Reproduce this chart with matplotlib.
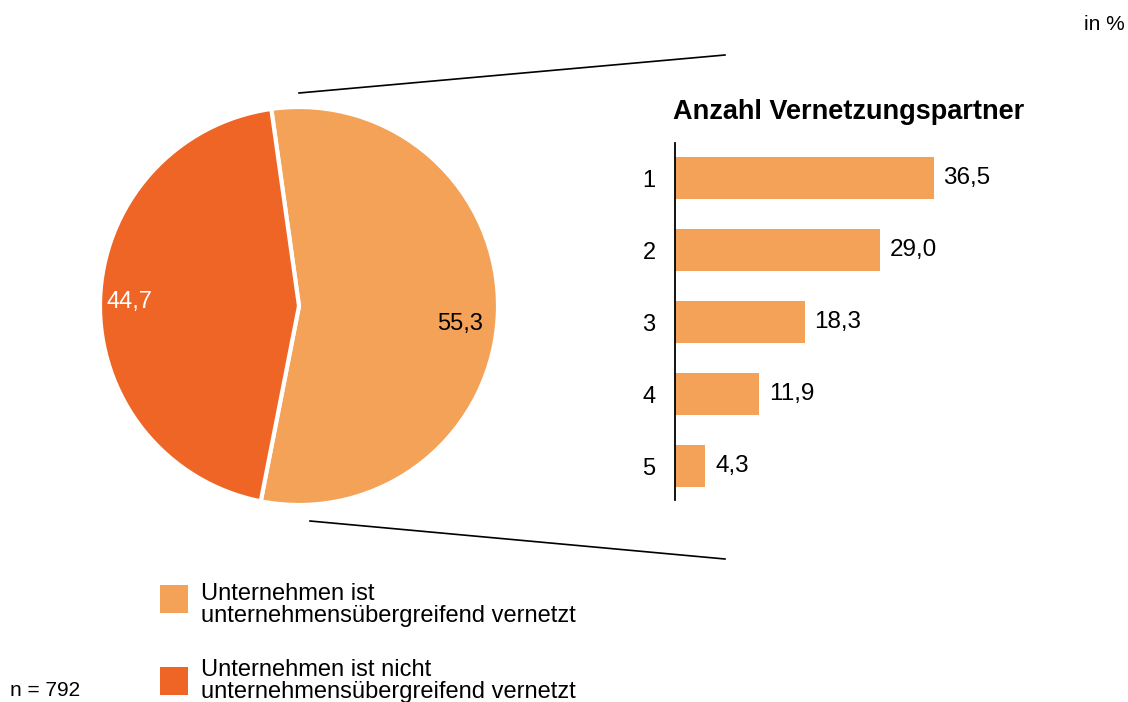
import matplotlib
matplotlib.use("Agg")
import matplotlib.pyplot as plt
from matplotlib.lines import Line2D
from matplotlib.patches import Rectangle

plt.rcParams["font.family"] = ["Liberation Sans", "DejaVu Sans"]

# -----------------------------
# Daten
# -----------------------------
pie_labels = ["Unternehmen ist\nunternehmensübergreifend vernetzt",
              "Unternehmen ist nicht\nunternehmensübergreifend vernetzt"]
pie_values = [55.3, 44.7]
pie_colors = ["#F3A257", "#EF6526"]

partner_cats = ["1", "2", "3", "4", "5"]
partner_values = [36.5, 29.0, 18.3, 11.9, 4.3]

n_text = "n = 792"
unit_text = "in %"
bar_title = "Anzahl Vernetzungspartner"

W, H = 1128, 702
fig = plt.figure(figsize=(W / 100, H / 100), dpi=100)


def px(x, y):
    # Pixelkoordinaten (von oben) -> Figure-Koordinaten
    return x / W, 1 - y / H


# -----------------------------
# Kreisdiagramm
# -----------------------------
cx, cy, r = 299, 306, 199
ax_pie = fig.add_axes([(cx - r) / W, 1 - (cy + r) / H, 2 * r / W, 2 * r / H])
wedges, _ = ax_pie.pie(pie_values, colors=pie_colors, startangle=98,
                       counterclock=False,
                       wedgeprops=dict(edgecolor="white", linewidth=3))
ax_pie.set_xlim(-1, 1)
ax_pie.set_ylim(-1, 1)
ax_pie.set_aspect("equal")
ax_pie.axis("off")
for w in wedges:
    w.set_clip_on(False)

fmt = lambda v: f"{v:.1f}".replace(".", ",")
ax_pie.text(0.81, -0.088, fmt(pie_values[0]), ha="center", va="center",
            fontsize=17, color="black")
ax_pie.text(-0.85, 0.02, fmt(pie_values[1]), ha="center", va="center",
            fontsize=17, color="white")

# -----------------------------
# Balkendiagramm
# -----------------------------
bx0, by0, by1 = 675, 143, 500
ax_bar = fig.add_axes([bx0 / W, 1 - by1 / H, 425 / W, (by1 - by0) / H])
ypos = list(range(len(partner_cats)))
ax_bar.barh(ypos, partner_values, height=0.58, color=pie_colors[0])
ax_bar.set_xlim(0, 60)
ax_bar.set_ylim(4.47, -0.49)
ax_bar.set_yticks(ypos)
ax_bar.set_yticklabels(partner_cats, fontsize=17)
ax_bar.tick_params(axis="y", length=0, pad=14)
ax_bar.set_xticks([])
for s in ["top", "right", "bottom"]:
    ax_bar.spines[s].set_visible(False)
ax_bar.spines["left"].set_linewidth(1.3)
for yv, v in zip(ypos, partner_values):
    ax_bar.annotate(fmt(v), (v, yv), xytext=(7, 0), textcoords="offset points",
                    ha="left", va="center", fontsize=17.5)

fig.text(*px(673, 112), bar_title, fontsize=19.5, fontweight="bold",
         ha="left", va="center")

# Verbindungslinien
for (x0, y0), (x1, y1) in [((299, 93), (725, 55)), ((310, 521), (725, 559))]:
    fig.add_artist(Line2D([x0 / W, x1 / W], [1 - y0 / H, 1 - y1 / H],
                          color="black", linewidth=1.2,
                          transform=fig.transFigure))

# -----------------------------
# Legende und Texte
# -----------------------------
for lab, col, sq_top, txt_y in zip(pie_labels, pie_colors, [585, 667], [605, 681]):
    fig.add_artist(Rectangle(px(160, sq_top + 28), 28 / W, 28 / H,
                             facecolor=col, edgecolor="none",
                             transform=fig.transFigure))
    fig.text(*px(201, txt_y), lab, fontsize=17, ha="left", va="center",
             linespacing=1.0)

fig.text(*px(10, 690), n_text, fontsize=15, ha="left", va="center")
fig.text(*px(1125, 25), unit_text, fontsize=15, ha="right", va="center")

fig.savefig("out.png", dpi=100)
